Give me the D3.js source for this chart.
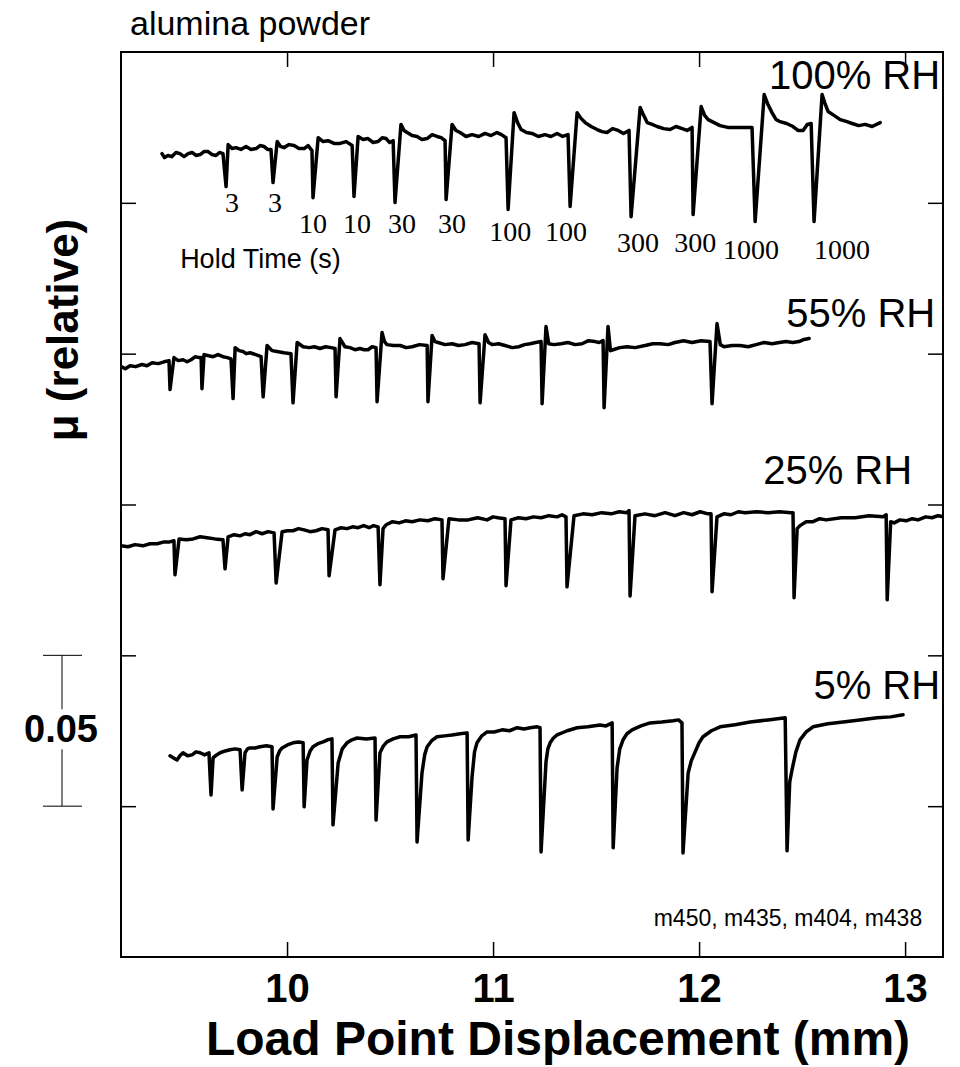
<!DOCTYPE html>
<html>
<head>
<meta charset="utf-8">
<script src="https://d3js.org/d3.v7.min.js"></script>
<style>
  body { margin: 0; background: #fff; font-family: "Liberation Sans", Arial, sans-serif; }
  .line { fill: none; stroke: #000; stroke-width: 3.5px; stroke-linejoin: round; stroke-linecap: round; }
  .frame { fill: none; stroke: #000; stroke-width: 2px; }
  .axis path { display: none; }
  .axis line { stroke: #000; stroke-width: 1.5px; }
</style>
</head>
<body>
<script>
// friction traces, [displacement (mm), mu (relative, offset per run)]
var rh100 = [[9.393,0.2663],[9.405,0.2650],[9.422,0.2657],[9.440,0.2653],[9.461,0.2667],[9.480,0.2663],[9.500,0.2653],[9.520,0.2663],[9.539,0.2667],[9.558,0.2657],[9.578,0.2660],[9.597,0.2670],[9.617,0.2670],[9.636,0.2660],[9.655,0.2657],[9.672,0.2667],[9.689,0.2663],[9.704,0.2554],[9.714,0.2693],[9.733,0.2680],[9.752,0.2683],[9.776,0.2677],[9.801,0.2687],[9.825,0.2677],[9.850,0.2680],[9.869,0.2690],[9.888,0.2687],[9.905,0.2677],[9.922,0.2677],[9.932,0.2567],[9.952,0.2703],[9.968,0.2687],[9.985,0.2683],[10.010,0.2693],[10.034,0.2690],[10.058,0.2680],[10.083,0.2680],[10.102,0.2690],[10.121,0.2673],[10.126,0.2517],[10.151,0.2716],[10.175,0.2703],[10.199,0.2706],[10.228,0.2697],[10.257,0.2697],[10.287,0.2703],[10.316,0.2690],[10.325,0.2521],[10.345,0.2720],[10.369,0.2710],[10.393,0.2713],[10.418,0.2700],[10.442,0.2703],[10.462,0.2716],[10.481,0.2713],[10.498,0.2700],[10.515,0.2706],[10.524,0.2501],[10.553,0.2760],[10.568,0.2740],[10.583,0.2733],[10.607,0.2723],[10.631,0.2720],[10.655,0.2710],[10.680,0.2713],[10.704,0.2726],[10.728,0.2720],[10.748,0.2716],[10.767,0.2706],[10.772,0.2511],[10.801,0.2760],[10.820,0.2740],[10.840,0.2733],[10.869,0.2720],[10.898,0.2726],[10.930,0.2720],[10.961,0.2730],[10.990,0.2723],[11.019,0.2733],[11.041,0.2726],[11.063,0.2716],[11.073,0.2478],[11.102,0.2799],[11.119,0.2766],[11.136,0.2743],[11.162,0.2733],[11.189,0.2730],[11.220,0.2720],[11.252,0.2726],[11.281,0.2720],[11.311,0.2730],[11.338,0.2720],[11.364,0.2726],[11.374,0.2488],[11.408,0.2799],[11.427,0.2780],[11.447,0.2766],[11.476,0.2753],[11.505,0.2743],[11.529,0.2736],[11.553,0.2733],[11.580,0.2746],[11.607,0.2740],[11.633,0.2730],[11.660,0.2740],[11.670,0.2454],[11.714,0.2816],[11.731,0.2790],[11.748,0.2766],[11.772,0.2760],[11.796,0.2753],[11.828,0.2746],[11.859,0.2743],[11.888,0.2753],[11.918,0.2746],[11.942,0.2740],[11.966,0.2750],[11.971,0.2461],[12.010,0.2819],[12.027,0.2790],[12.044,0.2776],[12.073,0.2766],[12.102,0.2756],[12.139,0.2750],[12.175,0.2750],[12.216,0.2750],[12.257,0.2750],[12.272,0.2438],[12.316,0.2859],[12.335,0.2825],[12.354,0.2799],[12.374,0.2776],[12.393,0.2769],[12.425,0.2763],[12.456,0.2753],[12.480,0.2740],[12.505,0.2740],[12.525,0.2760],[12.544,0.2763],[12.558,0.2438],[12.597,0.2859],[12.611,0.2830],[12.626,0.2803],[12.655,0.2790],[12.685,0.2776],[12.714,0.2770],[12.743,0.2763],[12.775,0.2756],[12.806,0.2760],[12.840,0.2753],[12.879,0.2766]];

var rh55 = [[9.195,0.1957],[9.215,0.1950],[9.238,0.1960],[9.265,0.1957],[9.296,0.1964],[9.320,0.1960],[9.345,0.1970],[9.375,0.1967],[9.403,0.1973],[9.427,0.1977],[9.432,0.1881],[9.451,0.1987],[9.472,0.1977],[9.495,0.1980],[9.515,0.1973],[9.534,0.1980],[9.555,0.1990],[9.573,0.1987],[9.583,0.1987],[9.587,0.1884],[9.597,0.1997],[9.620,0.1993],[9.641,0.1990],[9.665,0.1997],[9.689,0.1990],[9.710,0.1987],[9.728,0.1983],[9.738,0.1851],[9.748,0.2020],[9.767,0.2010],[9.786,0.2007],[9.803,0.2000],[9.820,0.2003],[9.848,0.1997],[9.874,0.1990],[9.884,0.1857],[9.903,0.2027],[9.927,0.2010],[9.951,0.2007],[9.985,0.2003],[10.019,0.2000],[10.029,0.1837],[10.049,0.2037],[10.078,0.2023],[10.107,0.2020],[10.133,0.2023],[10.160,0.2017],[10.187,0.2023],[10.214,0.2020],[10.233,0.2017],[10.238,0.1857],[10.257,0.2050],[10.281,0.2023],[10.306,0.2020],[10.330,0.2013],[10.354,0.2017],[10.374,0.2013],[10.393,0.2013],[10.413,0.2023],[10.432,0.2020],[10.437,0.1841],[10.461,0.2070],[10.473,0.2040],[10.485,0.2030],[10.517,0.2027],[10.549,0.2027],[10.578,0.2020],[10.607,0.2023],[10.643,0.2030],[10.680,0.2027],[10.684,0.1841],[10.704,0.2060],[10.718,0.2040],[10.733,0.2037],[10.767,0.2030],[10.801,0.2033],[10.832,0.2027],[10.864,0.2030],[10.898,0.2037],[10.932,0.2033],[10.937,0.1837],[10.961,0.2063],[10.978,0.2037],[10.995,0.2030],[11.027,0.2033],[11.058,0.2027],[11.092,0.2020],[11.126,0.2023],[11.153,0.2030],[11.180,0.2033],[11.207,0.2037],[11.233,0.2040],[11.238,0.1834],[11.257,0.2090],[11.270,0.2033],[11.296,0.2030],[11.330,0.2033],[11.364,0.2037],[11.398,0.2030],[11.432,0.2033],[11.463,0.2043],[11.495,0.2040],[11.515,0.2037],[11.534,0.2043],[11.539,0.1821],[11.558,0.2090],[11.570,0.2010],[11.583,0.2013],[11.615,0.2020],[11.650,0.2023],[11.690,0.2020],[11.738,0.2027],[11.775,0.2033],[11.811,0.2033],[11.850,0.2030],[11.883,0.2037],[11.925,0.2043],[11.966,0.2037],[12.010,0.2043],[12.053,0.2040],[12.063,0.1834],[12.087,0.2100],[12.103,0.2030],[12.121,0.2023],[12.160,0.2027],[12.199,0.2027],[12.238,0.2023],[12.277,0.2030],[12.316,0.2037],[12.354,0.2033],[12.390,0.2037],[12.422,0.2040],[12.455,0.2037],[12.485,0.2040],[12.510,0.2047],[12.534,0.2050]];

var rh25 = [[9.194,0.1363],[9.228,0.1360],[9.262,0.1367],[9.300,0.1363],[9.335,0.1370],[9.370,0.1370],[9.403,0.1376],[9.430,0.1376],[9.451,0.1380],[9.456,0.1267],[9.476,0.1386],[9.510,0.1383],[9.544,0.1386],[9.578,0.1393],[9.612,0.1390],[9.650,0.1386],[9.689,0.1383],[9.699,0.1287],[9.714,0.1393],[9.743,0.1400],[9.772,0.1396],[9.796,0.1403],[9.820,0.1400],[9.850,0.1410],[9.879,0.1403],[9.908,0.1410],[9.937,0.1406],[9.947,0.1240],[9.976,0.1410],[10.002,0.1413],[10.029,0.1413],[10.056,0.1420],[10.083,0.1416],[10.112,0.1410],[10.141,0.1413],[10.170,0.1420],[10.199,0.1416],[10.204,0.1264],[10.233,0.1416],[10.262,0.1423],[10.291,0.1420],[10.318,0.1426],[10.345,0.1423],[10.372,0.1430],[10.398,0.1423],[10.420,0.1430],[10.442,0.1426],[10.451,0.1234],[10.466,0.1420],[10.481,0.1433],[10.512,0.1443],[10.544,0.1439],[10.575,0.1446],[10.607,0.1443],[10.645,0.1449],[10.684,0.1446],[10.718,0.1453],[10.752,0.1449],[10.757,0.1254],[10.786,0.1453],[10.832,0.1449],[10.879,0.1449],[10.925,0.1456],[10.971,0.1449],[11.000,0.1459],[11.024,0.1456],[11.058,0.1453],[11.063,0.1231],[11.087,0.1449],[11.123,0.1456],[11.160,0.1453],[11.196,0.1459],[11.233,0.1456],[11.272,0.1463],[11.311,0.1459],[11.335,0.1466],[11.354,0.1459],[11.359,0.1227],[11.393,0.1463],[11.437,0.1469],[11.481,0.1466],[11.527,0.1473],[11.573,0.1469],[11.612,0.1476],[11.650,0.1473],[11.660,0.1480],[11.665,0.1197],[11.689,0.1463],[11.737,0.1469],[11.786,0.1463],[11.835,0.1473],[11.883,0.1463],[11.925,0.1473],[11.966,0.1466],[12.005,0.1476],[12.044,0.1469],[12.058,0.1469],[12.063,0.1211],[12.087,0.1459],[12.120,0.1469],[12.155,0.1466],[12.190,0.1476],[12.223,0.1473],[12.280,0.1476],[12.335,0.1473],[12.390,0.1476],[12.446,0.1473],[12.456,0.1473],[12.461,0.1191],[12.476,0.1420],[12.490,0.1430],[12.520,0.1443],[12.553,0.1443],[12.585,0.1453],[12.617,0.1449],[12.690,0.1456],[12.757,0.1456],[12.825,0.1463],[12.893,0.1459],[12.908,0.1466],[12.913,0.1184],[12.930,0.1443],[12.947,0.1439],[12.975,0.1449],[13.005,0.1446],[13.035,0.1453],[13.063,0.1449],[13.100,0.1459],[13.131,0.1456],[13.160,0.1463],[13.189,0.1459]];

var rh5 = [[9.432,0.0667],[9.449,0.0660],[9.466,0.0653],[9.480,0.0667],[9.495,0.0677],[9.517,0.0667],[9.539,0.0670],[9.558,0.0680],[9.578,0.0677],[9.600,0.0670],[9.621,0.0677],[9.631,0.0537],[9.641,0.0660],[9.658,0.0670],[9.675,0.0677],[9.700,0.0683],[9.723,0.0687],[9.748,0.0690],[9.772,0.0687],[9.782,0.0554],[9.796,0.0677],[9.808,0.0690],[9.820,0.0693],[9.845,0.0693],[9.869,0.0697],[9.900,0.0700],[9.927,0.0697],[9.932,0.0491],[9.952,0.0663],[9.964,0.0683],[9.976,0.0693],[10.002,0.0703],[10.029,0.0710],[10.055,0.0713],[10.078,0.0710],[10.083,0.0498],[10.097,0.0653],[10.112,0.0683],[10.126,0.0697],[10.150,0.0707],[10.175,0.0713],[10.197,0.0720],[10.218,0.0723],[10.223,0.0438],[10.248,0.0643],[10.268,0.0690],[10.291,0.0710],[10.315,0.0720],[10.340,0.0726],[10.385,0.0723],[10.427,0.0726],[10.432,0.0454],[10.451,0.0677],[10.468,0.0700],[10.485,0.0713],[10.515,0.0723],[10.549,0.0730],[10.590,0.0730],[10.626,0.0736],[10.631,0.0381],[10.655,0.0610],[10.668,0.0670],[10.680,0.0697],[10.702,0.0717],[10.728,0.0730],[10.765,0.0733],[10.801,0.0736],[10.840,0.0740],[10.874,0.0743],[10.879,0.0388],[10.898,0.0597],[10.910,0.0680],[10.922,0.0710],[10.945,0.0733],[10.971,0.0746],[11.005,0.0746],[11.044,0.0753],[11.080,0.0750],[11.117,0.0760],[11.150,0.0756],[11.180,0.0760],[11.214,0.0763],[11.228,0.0760],[11.233,0.0348],[11.257,0.0647],[11.266,0.0690],[11.277,0.0710],[11.293,0.0726],[11.311,0.0736],[11.360,0.0750],[11.408,0.0760],[11.460,0.0763],[11.519,0.0769],[11.548,0.0766],[11.578,0.0776],[11.583,0.0362],[11.602,0.0627],[11.615,0.0690],[11.631,0.0720],[11.650,0.0740],[11.675,0.0753],[11.718,0.0766],[11.762,0.0776],[11.818,0.0779],[11.874,0.0783],[11.900,0.0786],[11.917,0.0776],[11.922,0.0345],[11.947,0.0610],[11.962,0.0650],[11.981,0.0680],[12.000,0.0710],[12.019,0.0730],[12.060,0.0750],[12.102,0.0763],[12.175,0.0770],[12.248,0.0779],[12.335,0.0786],[12.418,0.0793],[12.427,0.0352],[12.440,0.0580],[12.451,0.0620],[12.470,0.0680],[12.490,0.0720],[12.520,0.0746],[12.553,0.0763],[12.625,0.0773],[12.699,0.0779],[12.780,0.0786],[12.864,0.0793],[12.930,0.0796],[12.990,0.0803]];

var runs = [rh100, rh55, rh25, rh5];
var runNames = ["100% RH", "55% RH", "25% RH", "5% RH"];
var holdTimes = ["3", "3", "10", "10", "30", "30", "100", "100", "300", "300", "1000", "1000"];
var xTicks = [10, 11, 12, 13];
var yTicks = [0.05, 0.10, 0.15, 0.20, 0.25];
var scaleBar = [0.05, 0.10];

// annotation anchors, in data units
var runLabelAt = [[13.170, 0.2876], [13.146, 0.2090], [13.034, 0.1569], [13.170, 0.0856]];
var holdLabelX = [9.733, 9.942, 10.126, 10.340, 10.558, 10.801, 11.083, 11.354, 11.704, 11.981, 12.252, 12.694];
var holdLabelMu = [0.2468, 0.2468, 0.2401, 0.2401, 0.2401, 0.2401, 0.2375, 0.2375, 0.2338, 0.2338, 0.2315, 0.2315];

var width = 960, height = 1067;
var margin = {top: 52, right: 17, bottom: 110, left: 121};

var x = d3.scaleLinear()
  .domain([9.194, 13.184])
  .range([margin.left, width - margin.right]);
var y = d3.scaleLinear()
  .domain([0, 0.30])
  .range([height - margin.bottom, margin.top]);

var svg = d3.select("body").append("svg")
  .attr("width", width)
  .attr("height", height);

svg.append("defs").append("clipPath")
  .attr("id", "plotclip")
  .append("rect")
  .attr("x", margin.left).attr("y", margin.top)
  .attr("width", x.range()[1] - x.range()[0])
  .attr("height", y.range()[0] - y.range()[1]);

var line = d3.line()
  .x(d => x(d[0]))
  .y(d => y(d[1]));

svg.append("g")
  .attr("clip-path", "url(#plotclip)")
  .selectAll(".line")
  .data(runs)
  .enter().append("path")
  .attr("class", "line")
  .attr("d", line);

// axes, ticks pointing in on all four sides
svg.append("g")
  .attr("class", "axis")
  .attr("transform", "translate(0," + y(0) + ")")
  .call(d3.axisBottom(x).tickValues(xTicks).tickSize(-15).tickPadding(17).tickFormat(d3.format("d")))
  .selectAll("text")
  .style("font", "bold 40px 'Liberation Sans', Arial, sans-serif")
  .attr("fill", "#000");

svg.append("g")
  .attr("class", "axis")
  .attr("transform", "translate(0," + y(0.30) + ")")
  .call(d3.axisTop(x).tickValues(xTicks).tickSize(-15).tickFormat(""));

svg.append("g")
  .attr("class", "axis")
  .attr("transform", "translate(" + x.range()[0] + ",0)")
  .call(d3.axisLeft(y).tickValues(yTicks).tickSize(-15).tickFormat(""));

svg.append("g")
  .attr("class", "axis")
  .attr("transform", "translate(" + x.range()[1] + ",0)")
  .call(d3.axisRight(y).tickValues(yTicks).tickSize(-15).tickFormat(""));

svg.append("rect")
  .attr("class", "frame")
  .attr("x", x.range()[0])
  .attr("y", y.range()[1])
  .attr("width", x.range()[1] - x.range()[0])
  .attr("height", y.range()[0] - y.range()[1]);

// run labels
svg.selectAll(".runlabel")
  .data(runNames)
  .enter().append("text")
  .attr("class", "runlabel")
  .attr("x", (d, i) => x(runLabelAt[i][0]))
  .attr("y", (d, i) => y(runLabelAt[i][1]))
  .attr("text-anchor", "end")
  .style("font", "40px 'Liberation Sans', Arial, sans-serif")
  .text(d => d);

// hold time labels
svg.selectAll(".hold")
  .data(holdTimes)
  .enter().append("text")
  .attr("class", "hold")
  .attr("x", (d, i) => x(holdLabelX[i]))
  .attr("y", (d, i) => y(holdLabelMu[i]))
  .attr("text-anchor", "middle")
  .style("font", "28px 'Liberation Serif', 'Times New Roman', serif")
  .text(d => d);

svg.append("text")
  .attr("x", x(9.481))
  .attr("y", y(0.2285))
  .style("font", "27px 'Liberation Sans', Arial, sans-serif")
  .text("Hold Time (s)");

svg.append("text")
  .attr("x", x(13.083))
  .attr("y", y(0.0103))
  .attr("text-anchor", "end")
  .style("font", "23px 'Liberation Sans', Arial, sans-serif")
  .text("m450, m435, m404, m438");

// title
svg.append("text")
  .attr("x", 130)
  .attr("y", 35)
  .style("font", "34px 'Liberation Sans', Arial, sans-serif")
  .text("alumina powder");

// axis titles
svg.append("text")
  .attr("x", 558)
  .attr("y", 1055)
  .attr("text-anchor", "middle")
  .style("font", "bold 48px 'Liberation Sans', Arial, sans-serif")
  .text("Load Point Displacement (mm)");

svg.append("text")
  .attr("transform", "translate(78," + 330 + ") rotate(-90)")
  .attr("text-anchor", "middle")
  .style("font", "bold 44px 'Liberation Sans', Arial, sans-serif")
  .text("\u03bc (relative)");

// 0.05 scale bar
var bar = svg.append("g").attr("class", "scalebar");
bar.append("line")
  .attr("x1", 62).attr("x2", 62)
  .attr("y1", y(scaleBar[1])).attr("y2", y(scaleBar[0]))
  .attr("stroke", "#000").attr("stroke-width", 1);
bar.selectAll(".cap")
  .data(scaleBar)
  .enter().append("line")
  .attr("x1", 43).attr("x2", 82)
  .attr("y1", d => y(d)).attr("y2", d => y(d))
  .attr("stroke", "#000").attr("stroke-width", 1);
bar.append("rect")
  .attr("x", 30).attr("y", y(0.0755) - 20)
  .attr("width", 64).attr("height", 40)
  .attr("fill", "#fff");
bar.append("text")
  .attr("x", 61)
  .attr("y", y(0.0755) + 13)
  .attr("text-anchor", "middle")
  .style("font", "bold 38px 'Liberation Sans', Arial, sans-serif")
  .text("0.05");
</script>
</body>
</html>
